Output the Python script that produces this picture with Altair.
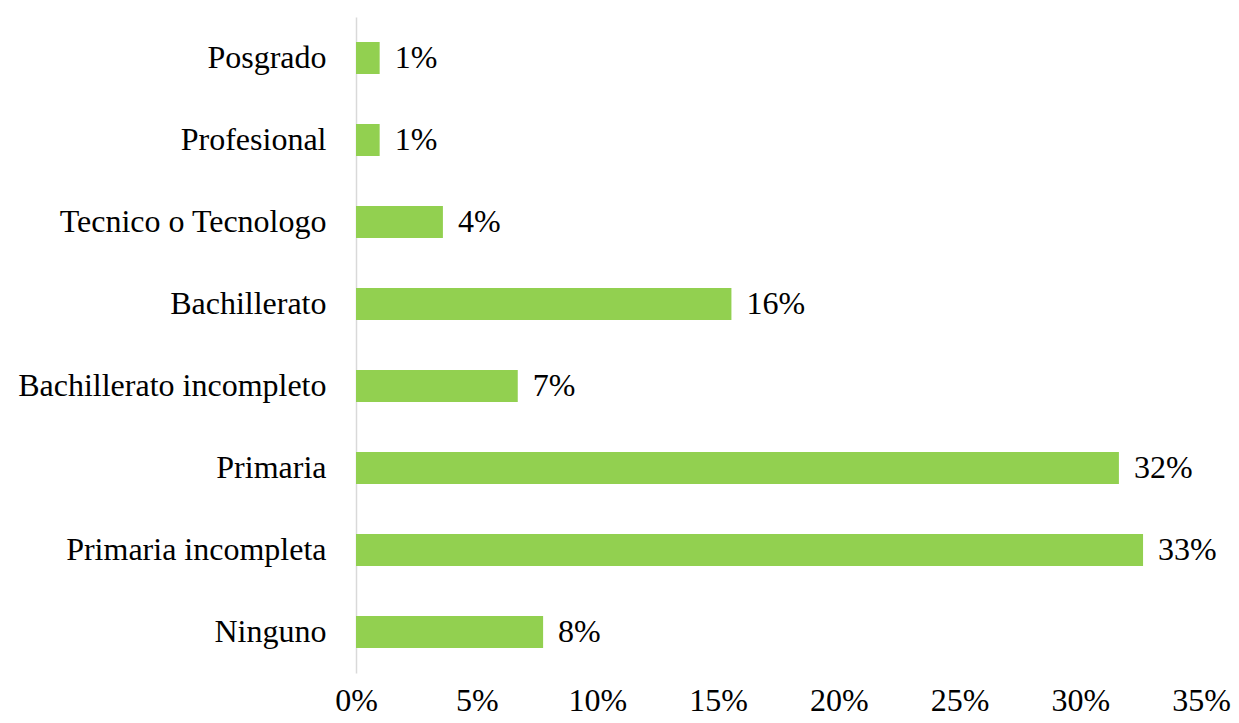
import altair as alt
import pandas as pd

categories = ["Posgrado", "Profesional", "Tecnico o Tecnologo", "Bachillerato",
              "Bachillerato incompleto", "Primaria", "Primaria incompleta", "Ninguno"]
values = [0.0098, 0.0098, 0.036, 0.1555, 0.067, 0.316, 0.326, 0.0775]
tick_values = [0, 0.05, 0.10, 0.15, 0.20, 0.25, 0.30, 0.35]

df = pd.DataFrame({"cat": categories, "val": values})

FONT = "Liberation Serif"
FS = 32

y_enc = alt.Y("cat:N", sort=categories, title=None,
              scale=alt.Scale(paddingInner=0.61, paddingOuter=0.305),
              axis=alt.Axis(domain=True, domainColor="#d9d9d9", domainWidth=1.5,
                            ticks=False, grid=False, labelFont=FONT, labelFontSize=FS,
                            labelColor="#000000", labelPadding=30, labelLimit=500))
x_enc = alt.X("val:Q", title=None,
              scale=alt.Scale(domain=[0, 0.35], nice=False, zero=True),
              axis=alt.Axis(values=tick_values, format=".0%", domain=False, ticks=False,
                            grid=False, labelFont=FONT, labelFontSize=FS, labelFlush=False,
                            labelColor="#000000", labelPadding=12))

bars = alt.Chart(df).mark_bar(color="#92D050").encode(x=x_enc, y=y_enc)
labels = alt.Chart(df).mark_text(align="left", baseline="middle", dx=15,
                                 font=FONT, fontSize=FS, color="#000000").encode(
    x=alt.X("val:Q"), y=alt.Y("cat:N", sort=categories),
    text=alt.Text("val:Q", format=".0%"))

chart = (bars + labels).properties(
    width=845, height=656,
    autosize=alt.AutoSizeParams(type="none"),
    padding={"left": 348, "top": 9, "right": 30, "bottom": 46},
).configure(background="white").configure_view(strokeWidth=0)

chart.save("out.html", embed_options={"renderer": "svg", "actions": False})
